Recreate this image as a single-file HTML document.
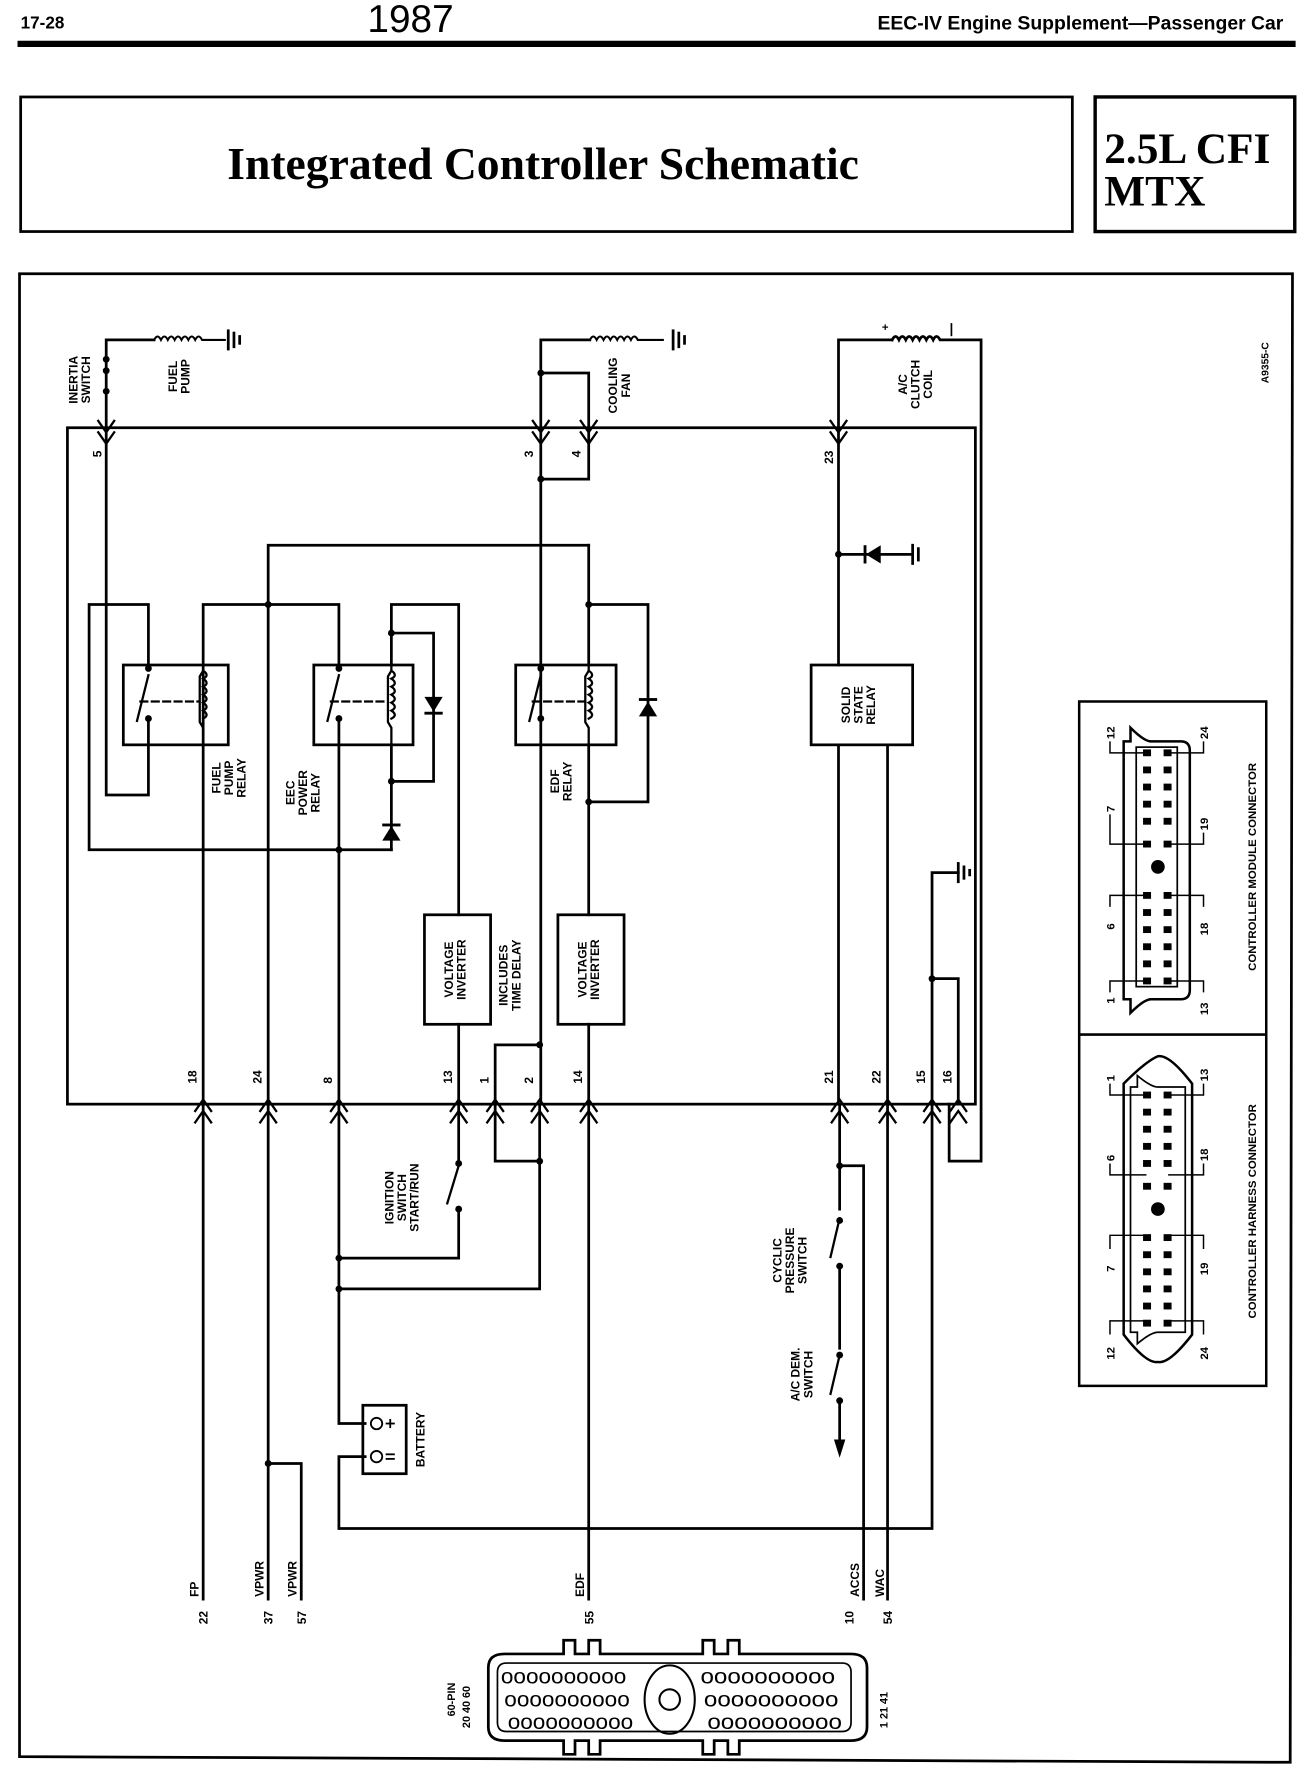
<!DOCTYPE html>
<html><head><meta charset="utf-8"><style>
html,body{margin:0;padding:0;background:#fff;}
svg{display:block}
text{font-family:"Liberation Sans",sans-serif;fill:#000}
.l{font-size:10.5px;font-weight:bold}
</style></head><body>
<svg width="1312" height="1768" viewBox="0 0 1150 1550" xmlns="http://www.w3.org/2000/svg">
<g stroke="#000" fill="none" stroke-width="2.4" stroke-linecap="square">
<line x1="18" y1="38.5" x2="1133" y2="38.5" stroke-width="5.5"/>
<rect x="18" y="85" width="922" height="118" stroke-width="2.4"/>
<rect x="960" y="85" width="175" height="118" stroke-width="3"/>
<polyline points="17,240 1133,240 1131,1545 17,1540 17,240" stroke-width="2.4"/>
<rect x="59" y="375" width="796" height="593"/>
<g stroke-width="2">
<polyline points="86,369 93,379 100,369"/><polyline points="86,379 93,389 100,379"/>
<polyline points="467,369 474,379 481,369"/><polyline points="467,379 474,389 481,379"/>
<polyline points="509,369 516,379 523,369"/><polyline points="509,379 516,389 523,379"/>
<polyline points="728,369 735,379 742,369"/><polyline points="728,379 735,389 742,379"/>
</g>
<g stroke-width="2">
<polyline points="171,974 178,964 185,974"/><polyline points="171,984 178,974 185,984"/>
<polyline points="228,974 235,964 242,974"/><polyline points="228,984 235,974 242,984"/>
<polyline points="290,974 297,964 304,974"/><polyline points="290,984 297,974 304,984"/>
<polyline points="395,974 402,964 409,974"/><polyline points="395,984 402,974 409,984"/>
<polyline points="427,974 434,964 441,974"/><polyline points="427,984 434,974 441,984"/>
<polyline points="466,974 473,964 480,974"/><polyline points="466,984 473,974 480,984"/>
<polyline points="509,974 516,964 523,974"/><polyline points="509,984 516,974 523,984"/>
<polyline points="729,974 736,964 743,974"/><polyline points="729,984 736,974 743,984"/>
<polyline points="771,974 778,964 785,974"/><polyline points="771,984 778,974 785,984"/>
<polyline points="810,974 817,964 824,974"/><polyline points="810,984 817,974 824,984"/>
<polyline points="833,974 840,964 847,974"/><polyline points="833,984 840,974 847,984"/>
</g>
<polyline points="93,375 93,298 135,298"/>
<path d="M135,298 q3,-6 6,0 q3,-6 6,0 q3,-6 6,0 q3,-6 6,0 q3,-6 6,0 q3,-6 6,0 q3,-6 6,0 l20,0" stroke-width="1.8"/>
<line x1="200" y1="290" x2="200" y2="306"/><line x1="205" y1="292" x2="205" y2="304"/><line x1="210" y1="295" x2="210" y2="301"/>
<polyline points="474,375 474,298 517,298"/>
<path d="M517,298 q3,-6 6,0 q3,-6 6,0 q3,-6 6,0 q3,-6 6,0 q3,-6 6,0 q3,-6 6,0 q3,-6 6,0 l22,0" stroke-width="1.8"/>
<line x1="590" y1="290" x2="590" y2="306"/><line x1="595" y1="292" x2="595" y2="304"/><line x1="600" y1="295" x2="600" y2="301"/>
<polyline points="474,327 516,327 516,375"/>
<polyline points="735,375 735,298 782,298"/>
<path d="M782,298 q3,-6 6,0 q3,-6 6,0 q3,-6 6,0 q3,-6 6,0 q3,-6 6,0 q3,-6 6,0 q3,-6 6,0 l36,0 0,720 -28,0 0,-50" />
<line x1="834" y1="284" x2="834" y2="294" stroke-width="1.5"/>
<polyline points="93,375 93,697 130,697 130,630"/>
<polyline points="130,583 130,530 78,530 78,745 343,745"/>
<polyline points="178,968 178,530 297,530 297,583"/>
<polyline points="235,968 235,478 516,478"/>
<line x1="297" y1="630" x2="297" y2="968"/>
<polyline points="343,583 343,530 402,530 402,802"/>
<polyline points="343,653 343,745"/>
<polyline points="343,555 380,555 380,685 343,685"/>
<polyline points="474,375 474,968"/>
<polyline points="474,420 516,420 516,375"/>
<polyline points="516,478 516,583"/><polyline points="516,653 516,802"/>
<polyline points="516,530 568,530 568,703 516,703"/>
<rect x="108" y="583" width="92" height="70"/>
<rect x="275" y="583" width="87" height="70"/>
<rect x="452" y="583" width="88" height="70"/>
<g stroke-width="2">
<line x1="130" y1="592" x2="120" y2="632"/><line x1="297" y1="592" x2="287" y2="632"/><line x1="474" y1="592" x2="464" y2="632"/>
<line x1="123" y1="615" x2="174" y2="615" stroke-dasharray="6,4"/>
<line x1="290" y1="615" x2="339" y2="615" stroke-dasharray="6,4"/>
<line x1="467" y1="615" x2="512" y2="615" stroke-dasharray="6,4"/>
<path d="M178,583 v5 l-3,5 v40 l3,5 v15 M178,588 q6,4 0,7 q6,4 0,7 q6,4 0,7 q6,4 0,7 q6,4 0,7 q6,4 0,7"/>
<path d="M343,583 v5 l-3,5 v40 l3,5 v15 M343,588 q6,4 0,7 q6,4 0,7 q6,4 0,7 q6,4 0,7 q6,4 0,7 q6,4 0,7"/>
<path d="M516,583 v5 l-3,5 v40 l3,5 v15 M516,588 q6,4 0,7 q6,4 0,7 q6,4 0,7 q6,4 0,7 q6,4 0,7 q6,4 0,7"/>
</g>
<rect x="372" y="802" width="58" height="96"/>
<rect x="489" y="802" width="58" height="96"/>
<line x1="402" y1="898" x2="402" y2="968"/><line x1="516" y1="898" x2="516" y2="968"/>
<polyline points="473,916 434,916 434,968"/>
<polyline points="735,375 735,583"/>
<line x1="735" y1="486" x2="800" y2="486"/>
<line x1="800" y1="478" x2="800" y2="494"/><line x1="805" y1="481" x2="805" y2="491"/>
<rect x="711" y="583" width="89" height="70"/>
<line x1="735" y1="653" x2="735" y2="968"/><line x1="778" y1="653" x2="778" y2="968"/>
<polyline points="817,968 817,765 840,765"/>
<line x1="840" y1="757" x2="840" y2="773"/><line x1="845" y1="760" x2="845" y2="770"/><line x1="850" y1="763" x2="850" y2="767"/>
<polyline points="817,858 840,858 840,968"/>
<line x1="178" y1="968" x2="178" y2="1402"/>
<line x1="235" y1="968" x2="235" y2="1402"/>
<polyline points="235,1283 264,1283 264,1402"/>
<polyline points="297,968 297,1248 320,1248"/>
<polyline points="297,1103 402,1103 402,1060"/>
<polyline points="402,968 402,1020"/>
<line x1="402" y1="1022" x2="392" y2="1055" stroke-width="2"/>
<polyline points="297,1130 473,1130 473,968"/>
<polyline points="434,968 434,1018 473,1018"/>
<polyline points="320,1277 297,1277 297,1340 817,1340 817,968"/>
<rect x="318" y="1232" width="38" height="60"/>
<line x1="516" y1="968" x2="516" y2="1402"/>
<polyline points="736,968 736,1060"/>
<line x1="736" y1="1068" x2="728" y2="1102" stroke-width="2"/>
<line x1="736" y1="1112" x2="736" y2="1182"/>
<line x1="736" y1="1188" x2="728" y2="1222" stroke-width="2"/>
<line x1="736" y1="1230" x2="736" y2="1262"/>
<polyline points="736,1022 757,1022 757,1402"/>
<line x1="778" y1="968" x2="778" y2="1402"/>
</g>
<g fill="#000" stroke="none">
<circle cx="93" cy="315" r="3"/><circle cx="93" cy="325" r="3"/><circle cx="93" cy="343" r="3"/>
<circle cx="474" cy="327" r="3"/><circle cx="474" cy="420" r="3"/><circle cx="235" cy="530" r="3"/>
<circle cx="343" cy="555" r="3"/><circle cx="343" cy="685" r="3"/><circle cx="297" cy="745" r="3"/>
<circle cx="516" cy="530" r="3"/><circle cx="516" cy="703" r="3"/><circle cx="735" cy="486" r="3"/>
<circle cx="817" cy="858" r="3"/><circle cx="473" cy="916" r="3"/><circle cx="473" cy="1018" r="3"/>
<circle cx="297" cy="1103" r="3"/><circle cx="297" cy="1130" r="3"/><circle cx="235" cy="1283" r="3"/>
<circle cx="736" cy="1022" r="3"/><circle cx="130" cy="586" r="3"/><circle cx="130" cy="630" r="3"/>
<circle cx="297" cy="586" r="3"/><circle cx="297" cy="630" r="3"/><circle cx="474" cy="586" r="3"/><circle cx="474" cy="630" r="3"/>
<circle cx="402" cy="1020" r="3"/><circle cx="402" cy="1060" r="3"/>
<circle cx="736" cy="1070" r="3"/><circle cx="736" cy="1110" r="3"/><circle cx="736" cy="1188" r="3"/><circle cx="736" cy="1228" r="3"/>
<polygon points="372,611 388,611 380,624"/><rect x="372" y="624" width="16" height="2.5"/>
<polygon points="335,737 351,737 343,724"/><rect x="335" y="722" width="16" height="2.5"/>
<polygon points="560,628 576,628 568,615"/><rect x="560" y="612" width="16" height="2.5"/>
<polygon points="772,478 772,494 759,486"/><rect x="757" y="478" width="2.5" height="16"/>
<polygon points="731,1262 741,1262 736,1278"/>
</g>
<g stroke="#000" fill="none" stroke-width="1.6">
<circle cx="330" cy="1248" r="5"/><circle cx="330" cy="1277" r="5"/>
<line x1="338" y1="1248" x2="346" y2="1248"/><line x1="342" y1="1244" x2="342" y2="1252"/>
<line x1="338" y1="1275" x2="346" y2="1275"/><line x1="338" y1="1279" x2="346" y2="1279"/>
</g>
<text x="18" y="25" style="font-size:15px;font-weight:bold">17-28</text>
<text x="322" y="28" style="font-size:34px">1987</text>
<text x="1125" y="26" text-anchor="end" style="font-size:17px;font-weight:bold">EEC-IV Engine Supplement—Passenger Car</text>
<text x="476" y="157" text-anchor="middle" style="font-family:'Liberation Serif',serif;font-size:40px;font-weight:bold">Integrated Controller Schematic</text>
<text x="968" y="143" style="font-family:'Liberation Serif',serif;font-size:38px;font-weight:bold">2.5L CFI</text>
<text x="968" y="180" style="font-family:'Liberation Serif',serif;font-size:38px;font-weight:bold">MTX</text>
<g class="l">
<text transform="translate(68,333) rotate(-90)" text-anchor="middle">INERTIA<tspan x="0" dy="11">SWITCH</tspan></text>
<text transform="translate(155,330) rotate(-90)" text-anchor="middle">FUEL<tspan x="0" dy="11">PUMP</tspan></text>
<text transform="translate(541,338) rotate(-90)" text-anchor="middle">COOLING<tspan x="0" dy="11">FAN</tspan></text>
<text transform="translate(795,337) rotate(-90)" text-anchor="middle">A/C<tspan x="0" dy="11">CLUTCH</tspan><tspan x="0" dy="11">COIL</tspan></text>
<text transform="translate(1112,318) rotate(-90)" text-anchor="middle" style="font-size:9px">A9355-C</text>
<text x="773" y="290" style="font-size:10px">+</text>
<text transform="translate(193,682) rotate(-90)" text-anchor="middle">FUEL<tspan x="0" dy="11">PUMP</tspan><tspan x="0" dy="11">RELAY</tspan></text>
<text transform="translate(258,695) rotate(-90)" text-anchor="middle">EEC<tspan x="0" dy="11">POWER</tspan><tspan x="0" dy="11">RELAY</tspan></text>
<text transform="translate(490,685) rotate(-90)" text-anchor="middle">EDF<tspan x="0" dy="11">RELAY</tspan></text>
<text transform="translate(745,618) rotate(-90)" text-anchor="middle">SOLID<tspan x="0" dy="11">STATE</tspan><tspan x="0" dy="11">RELAY</tspan></text>
<text transform="translate(397,850) rotate(-90)" text-anchor="middle">VOLTAGE<tspan x="0" dy="11">INVERTER</tspan></text>
<text transform="translate(514,850) rotate(-90)" text-anchor="middle">VOLTAGE<tspan x="0" dy="11">INVERTER</tspan></text>
<text transform="translate(445,855) rotate(-90)" text-anchor="middle">INCLUDES<tspan x="0" dy="11">TIME DELAY</tspan></text>
<text transform="translate(345,1050) rotate(-90)" text-anchor="middle">IGNITION<tspan x="0" dy="11">SWITCH</tspan><tspan x="0" dy="11">START/RUN</tspan></text>
<text transform="translate(372,1262) rotate(-90)" text-anchor="middle">BATTERY</text>
<text transform="translate(685,1105) rotate(-90)" text-anchor="middle">CYCLIC<tspan x="0" dy="11">PRESSURE</tspan><tspan x="0" dy="11">SWITCH</tspan></text>
<text transform="translate(701,1205) rotate(-90)" text-anchor="middle">A/C DEM.<tspan x="0" dy="11">SWITCH</tspan></text>
<text transform="translate(89,395) rotate(-90)" text-anchor="end">5</text>
<text transform="translate(467,395) rotate(-90)" text-anchor="end">3</text>
<text transform="translate(509,395) rotate(-90)" text-anchor="end">4</text>
<text transform="translate(730,395) rotate(-90)" text-anchor="end">23</text>
<text transform="translate(172,950) rotate(-90)">18</text>
<text transform="translate(229,950) rotate(-90)">24</text>
<text transform="translate(291,950) rotate(-90)">8</text>
<text transform="translate(396,950) rotate(-90)">13</text>
<text transform="translate(428,950) rotate(-90)">1</text>
<text transform="translate(467,950) rotate(-90)">2</text>
<text transform="translate(510,950) rotate(-90)">14</text>
<text transform="translate(730,950) rotate(-90)">21</text>
<text transform="translate(772,950) rotate(-90)">22</text>
<text transform="translate(811,950) rotate(-90)">15</text>
<text transform="translate(834,950) rotate(-90)">16</text>
<text transform="translate(174,1400) rotate(-90)">FP</text>
<text transform="translate(182,1424) rotate(-90)">22</text>
<text transform="translate(231,1400) rotate(-90)">VPWR</text>
<text transform="translate(239,1424) rotate(-90)">37</text>
<text transform="translate(260,1400) rotate(-90)">VPWR</text>
<text transform="translate(268,1424) rotate(-90)">57</text>
<text transform="translate(512,1400) rotate(-90)">EDF</text>
<text transform="translate(520,1424) rotate(-90)">55</text>
<text transform="translate(753,1400) rotate(-90)">ACCS</text>
<text transform="translate(748,1424) rotate(-90)">10</text>
<text transform="translate(775,1400) rotate(-90)">WAC</text>
<text transform="translate(782,1424) rotate(-90)">54</text>
</g>
<g stroke="#000" fill="none" stroke-width="2.4">
<path d="M428,1462 q0,-12 14,-12 h52 v-12 h10 v12 h12 v-12 h10 v12 h90 v-12 h10 v12 h12 v-12 h10 v12 h98 q14,0 14,12 v52 q0,12 -14,12 h-98 v12 h-10 v-12 h-12 v12 h-10 v-12 h-90 v12 h-10 v-12 h-12 v12 h-10 v-12 h-52 q-14,0 -14,-12 z"/>
<path d="M436,1466 q0,-8 8,-8 h294 q8,0 8,8 v44 q0,8 -8,8 h-294 q-8,0 -8,-8 z" stroke-width="1.5"/>
<ellipse cx="587" cy="1490" rx="22" ry="30" stroke-width="1.8"/>
<circle cx="587" cy="1490" r="9" stroke-width="1.8"/>
</g>
<g style="font-size:19px" font-family="Liberation Sans">
<text x="439" y="1476" textLength="110" lengthAdjust="spacingAndGlyphs">oooooooooo</text>
<text x="442" y="1496" textLength="110" lengthAdjust="spacingAndGlyphs">oooooooooo</text>
<text x="445" y="1516" textLength="110" lengthAdjust="spacingAndGlyphs">oooooooooo</text>
<text x="614" y="1476" textLength="118" lengthAdjust="spacingAndGlyphs">oooooooooo</text>
<text x="617" y="1496" textLength="118" lengthAdjust="spacingAndGlyphs">oooooooooo</text>
<text x="620" y="1516" textLength="118" lengthAdjust="spacingAndGlyphs">oooooooooo</text>
</g>
<g class="l" style="font-size:9.5px">
<text transform="translate(399,1490) rotate(-90)" text-anchor="middle">60-PIN</text>
<text transform="translate(412,1515) rotate(-90)">20 40 60</text>
<text transform="translate(778,1515) rotate(-90)">1  21  41</text>
</g>
<g stroke="#000" fill="none" stroke-width="2.2">
<rect x="946" y="615" width="164" height="600"/>
<line x1="946" y1="907" x2="1110" y2="907"/>
<path d="M985,650 h6 v-12 q12,12 18,12 h26 q8,0 8,8 v210 q0,8 -8,8 h-26 q-6,0 -18,12 v-12 h-6 z"/>
<rect x="996" y="655" width="36" height="210" stroke-width="1.5"/>
<path d="M985,950 q20,-20 30,-24 q10,-2 30,24 v220 q-20,26 -30,24 q-10,2 -30,-24 z"/>
<path d="M991,953 h6 v-10 q12,10 18,10 h24 v215 h-24 q-6,0 -18,10 v-10 h-6 z" stroke-width="1.5"/>
<g stroke-width="1.3">
<polyline points="1005,660 973,660 973,650"/><polyline points="1024,660 1055,660 1055,650"/>
<polyline points="1005,740 973,740 973,714"/><polyline points="1024,740 1055,740 1055,730"/>
<polyline points="1005,785 973,785 973,795"/><polyline points="1024,785 1055,785 1055,795"/>
<polyline points="1005,860 973,860 973,870"/><polyline points="1024,860 1055,860 1055,870"/>
<polyline points="1005,960 973,960 973,950"/><polyline points="1024,960 1055,960 1055,950"/>
<polyline points="1005,1030 973,1030 973,1020"/><polyline points="1024,1030 1055,1030 1055,1020"/>
<polyline points="1005,1083 973,1083 973,1095"/><polyline points="1024,1083 1055,1083 1055,1095"/>
<polyline points="1005,1158 973,1158 973,1170"/><polyline points="1024,1158 1055,1158 1055,1170"/>
</g>
</g>
<g fill="#000">
<g id="cm">
<rect x="1002" y="657" width="7" height="6"/><rect x="1020" y="657" width="7" height="6"/>
<rect x="1002" y="672" width="7" height="6"/><rect x="1020" y="672" width="7" height="6"/>
<rect x="1002" y="687" width="7" height="6"/><rect x="1020" y="687" width="7" height="6"/>
<rect x="1002" y="702" width="7" height="6"/><rect x="1020" y="702" width="7" height="6"/>
<rect x="1002" y="717" width="7" height="6"/><rect x="1020" y="717" width="7" height="6"/>
<rect x="1002" y="737" width="7" height="6"/><rect x="1020" y="737" width="7" height="6"/>
<rect x="1002" y="782" width="7" height="6"/><rect x="1020" y="782" width="7" height="6"/>
<rect x="1002" y="797" width="7" height="6"/><rect x="1020" y="797" width="7" height="6"/>
<rect x="1002" y="812" width="7" height="6"/><rect x="1020" y="812" width="7" height="6"/>
<rect x="1002" y="827" width="7" height="6"/><rect x="1020" y="827" width="7" height="6"/>
<rect x="1002" y="842" width="7" height="6"/><rect x="1020" y="842" width="7" height="6"/>
<rect x="1002" y="857" width="7" height="6"/><rect x="1020" y="857" width="7" height="6"/>
</g>
<circle cx="1015" cy="760" r="6"/>
<use href="#cm" transform="translate(0,300)"/>
<circle cx="1015" cy="1060" r="6"/>
</g>
<g class="l" style="font-size:10px">
<text transform="translate(1101,760) rotate(-90)" text-anchor="middle">CONTROLLER MODULE CONNECTOR</text>
<text transform="translate(1101,1062) rotate(-90)" text-anchor="middle">CONTROLLER HARNESS CONNECTOR</text>
<text transform="translate(977,648) rotate(-90)">12</text><text transform="translate(1059,648) rotate(-90)">24</text>
<text transform="translate(977,712) rotate(-90)">7</text><text transform="translate(1059,728) rotate(-90)">19</text>
<text transform="translate(977,815) rotate(-90)">6</text><text transform="translate(1059,820) rotate(-90)">18</text>
<text transform="translate(977,880) rotate(-90)">1</text><text transform="translate(1059,890) rotate(-90)">13</text>
<text transform="translate(977,948) rotate(-90)">1</text><text transform="translate(1059,948) rotate(-90)">13</text>
<text transform="translate(977,1018) rotate(-90)">6</text><text transform="translate(1059,1018) rotate(-90)">18</text>
<text transform="translate(977,1115) rotate(-90)">7</text><text transform="translate(1059,1118) rotate(-90)">19</text>
<text transform="translate(977,1192) rotate(-90)">12</text><text transform="translate(1059,1192) rotate(-90)">24</text>
</g>
</svg>
</body></html>
